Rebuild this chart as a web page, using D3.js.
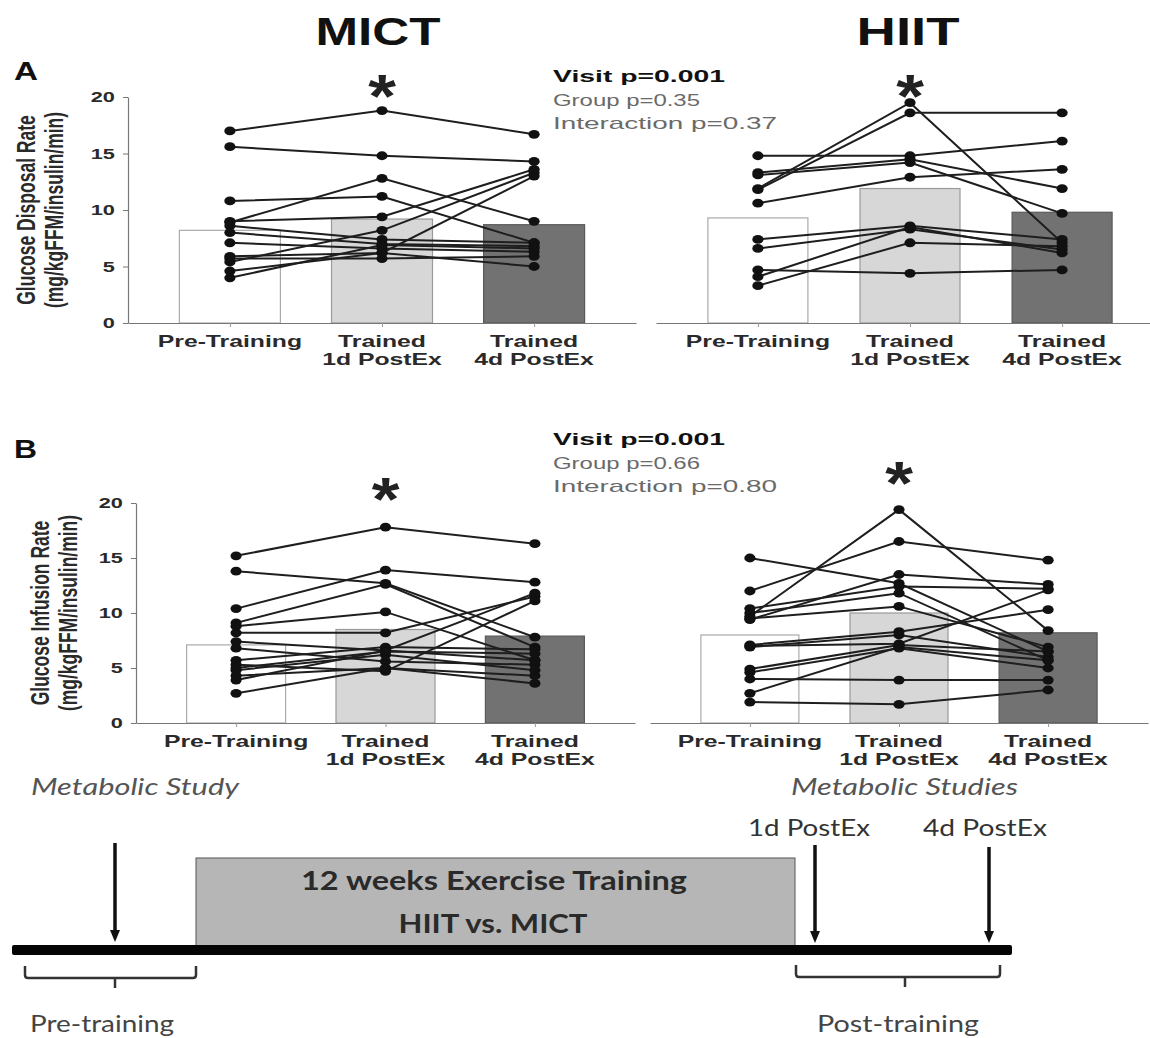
<!DOCTYPE html>
<html>
<head>
<meta charset="utf-8">
<script src="https://cdn.jsdelivr.net/npm/d3@7"></script>
<style>
  body { margin: 0; background: #fff; }
  svg { display: block; font-family: "Liberation Sans", Arial, sans-serif; }
</style>
</head>
<body>
<svg id="fig" width="1150" height="1038"></svg>
<script>
// visits (x categories) and y ticks
const visits = ["Pre-Training", "Trained\n1d PostEx", "Trained\n4d PostEx"];
const yTicks = [0, 5, 10, 15, 20];

// A: glucose disposal rate, one row per subject: [pre, 1d, 4d]
const gdrMict = [
  [17.0, 18.8, 16.7], [15.6, 14.8, 14.3], [10.8, 11.2, 7.1], [8.9, 12.8, 9.0],
  [9.0, 9.4, 13.6], [8.6, 7.4, 7.1], [8.0, 7.0, 6.8], [7.1, 6.6, 6.3],
  [5.9, 6.2, 5.0], [5.7, 5.7, 5.9], [5.4, 8.2, 13.3], [4.6, 6.2, 13.0], [4.0, 6.9, 6.6]
];
const gdrHiit = [
  [11.9, 19.5, 7.1], [11.8, 18.6, 18.6], [14.8, 14.8, 16.1], [13.3, 14.5, 11.9],
  [13.1, 14.2, 9.7], [10.6, 12.9, 13.6], [7.4, 8.6, 7.4], [6.6, 8.3, 6.5],
  [4.7, 4.4, 4.7], [4.1, 8.5, 6.2], [3.3, 7.1, 6.8]
];
const gdrMictMean = [8.2, 9.2, 8.7];
const gdrHiitMean = [9.3, 11.9, 9.8];

// B: glucose infusion rate
const girMict = [
  [15.2, 17.8, 16.3], [13.8, 12.7, 7.8], [10.4, 13.9, 12.8], [9.1, 12.6, 6.9],
  [8.2, 8.2, 11.5], [8.8, 10.1, 5.7], [7.4, 6.6, 11.8], [6.8, 5.6, 5.3],
  [5.7, 6.9, 6.7], [5.3, 4.7, 11.1], [4.8, 6.2, 4.8], [4.3, 5.0, 3.6],
  [3.9, 6.6, 5.7], [2.7, 5.0, 4.3], [5.0, 6.5, 6.3]
];
const girHiit = [
  [9.7, 19.4, 8.4], [12.0, 16.5, 14.8], [15.0, 12.7, 6.5], [9.4, 13.5, 12.6],
  [10.4, 12.4, 12.2], [10.0, 11.8, 5.7], [9.5, 10.6, 6.9], [7.1, 8.3, 10.3],
  [6.9, 8.0, 6.0], [4.9, 7.1, 6.5], [4.6, 6.8, 5.0], [4.0, 3.9, 3.9],
  [2.7, 6.9, 5.7], [1.9, 1.7, 3.0], [7.0, 7.2, 12.1]
];
const girMictMean = [7.1, 8.5, 7.9];
const girHiitMean = [8.0, 10.0, 8.2];

const statsA = ["Visit p=0.001", "Group p=0.35", "Interaction p=0.37"];
const statsB = ["Visit p=0.001", "Group p=0.66", "Interaction p=0.80"];

const barFill = ["#ffffff", "#d7d7d7", "#727272"];
const barStroke = ["#aaaaaa", "#9a9a9a", "#5a5a5a"];

const svg = d3.select("#fig");

// text helper: the figure is stretched horizontally, so text gets an x scale
function addText(parent, str, x, y, o = {}) {
  const k = o.k || 1;
  const t = parent.append("text")
    .attr("transform", `translate(${x},${y}) scale(${k},1)`)
    .attr("text-anchor", o.anchor || "start")
    .attr("font-size", o.size || 16)
    .attr("font-weight", o.weight || "normal")
    .attr("font-style", o.style || "normal")
    .attr("fill", o.color || "#111")
    .text(str);
  if (o.family) t.attr("font-family", o.family);
  if (o.width) t.attr("textLength", o.width / k).attr("lengthAdjust", "spacingAndGlyphs");
  return t;
}

function panel(cfg) {
  const x = d3.scalePoint().domain(visits).range(cfg.xr).padding(0.67);
  const y = d3.scaleLinear().domain([0, 20]).range(cfg.yr);
  const g = svg.append("g");

  // mean bars
  g.selectAll("rect.bar").data(cfg.means).join("rect")
    .attr("class", "bar")
    .attr("x", (d, i) => x(visits[i]) - cfg.barW / 2)
    .attr("y", d => y(d))
    .attr("width", cfg.barW)
    .attr("height", d => y(0) - y(d))
    .attr("fill", (d, i) => barFill[i])
    .attr("stroke", (d, i) => barStroke[i])
    .attr("stroke-width", 1.2);

  // x axis
  const xa = g.append("g")
    .attr("transform", `translate(0,${y(0)})`)
    .call(d3.axisBottom(x).tickSize(4).tickSizeOuter(0).tickFormat(""));
  xa.select(".domain").attr("stroke", "#777").attr("stroke-width", 1.2);
  xa.selectAll(".tick line").attr("stroke", "#999");

  visits.forEach(v => {
    v.split("\n").forEach((s, j) => {
      addText(g, s, x(v), y(0) + 24 + j * 18,
        { anchor: "middle", size: 16.5, weight: "bold", k: 1.5, color: "#2a2a2a" });
    });
  });

  // y axis
  if (cfg.yAxis) {
    const ya = g.append("g")
      .attr("transform", `translate(${cfg.xr[0]},0)`)
      .call(d3.axisLeft(y).tickValues(yTicks).tickSize(5).tickPadding(4).tickSizeOuter(0));
    ya.select(".domain").attr("stroke", "#777").attr("stroke-width", 1.2);
    ya.selectAll(".tick line").attr("stroke", "#777");
    ya.selectAll(".tick text")
      .attr("font-size", 15).attr("font-weight", "bold")
      .attr("font-family", "Liberation Sans, Arial, sans-serif")
      .attr("fill", "#2a2a2a")
      .attr("transform", "scale(1.45,1)");
    const yc = (cfg.yr[0] + cfg.yr[1]) / 2;
    cfg.yTitle.forEach((s, j) => {
      g.append("text")
        .attr("transform", `translate(${cfg.titleX[j]},${yc}) scale(1.45,1) rotate(-90)`)
        .attr("text-anchor", "middle")
        .attr("font-size", 17.5).attr("font-weight", "bold").attr("fill", "#2a2a2a")
        .text(s);
    });
  }

  // subject lines
  const line = d3.line().x((d, i) => x(visits[i])).y(d => y(d));
  g.selectAll("path.subj").data(cfg.subjects).join("path")
    .attr("class", "subj")
    .attr("d", line)
    .attr("fill", "none")
    .attr("stroke", "#1e1e1e")
    .attr("stroke-width", 2);

  // subject points
  g.selectAll("g.subj").data(cfg.subjects).join("g")
    .attr("class", "subj")
    .selectAll("ellipse").data(d => d).join("ellipse")
    .attr("cx", (d, i) => x(visits[i]))
    .attr("cy", d => y(d))
    .attr("rx", 5.6).attr("ry", 4.4)
    .attr("fill", "#111");

  // significance marker above 1d
  addText(g, "*", x(visits[1]), cfg.starY,
    { anchor: "middle", size: 62, weight: "bold", k: 1.15, color: "#222" });
}

// titles
addText(svg, "MICT", 378, 45, { anchor: "middle", size: 38, weight: "bold", width: 125 });
addText(svg, "HIIT", 908, 45, { anchor: "middle", size: 38, weight: "bold", width: 103 });
addText(svg, "A", 14, 80, { size: 25, weight: "900", width: 24 });
addText(svg, "B", 14, 458, { size: 25, weight: "900", width: 23 });

const yTitleA = ["Glucose Disposal Rate", "(mg/kgFFM/insulin/min)"];
const yTitleB = ["Glucose Infusion Rate", "(mg/kgFFM/insulin/min)"];

panel({ subjects: gdrMict, means: gdrMictMean, xr: [128, 636], yr: [323, 97], barW: 101,
  yAxis: true, yTitle: yTitleA, titleX: [35, 63], starY: 117 });
panel({ subjects: gdrHiit, means: gdrHiitMean, xr: [656, 1164], yr: [323, 97], barW: 100,
  yAxis: false, starY: 117 });
panel({ subjects: girMict, means: girMictMean, xr: [136, 635], yr: [723, 503], barW: 99,
  yAxis: true, yTitle: yTitleB, titleX: [49, 77], starY: 520 });
panel({ subjects: girHiit, means: girHiitMean, xr: [650, 1148], yr: [723, 503], barW: 98,
  yAxis: false, starY: 504 });

// stats text
const statW = [172, 147, 224];
[[statsA, 82], [statsB, 445]].forEach(([lines, y0]) => {
  lines.forEach((s, i) => {
    addText(svg, s, 553, y0 + i * 23.5, {
      size: 17, weight: i === 0 ? "bold" : "normal",
      color: i === 0 ? "#111" : "#6a6a6a", width: statW[i]
    });
  });
});

// study timeline schematic
const tl = svg.append("g").attr("font-family", "Lato, 'Open Sans', sans-serif");
tl.append("rect").attr("x", 196).attr("y", 858).attr("width", 599).attr("height", 88)
  .attr("fill", "#b6b6b6").attr("stroke", "#555").attr("stroke-width", 1);
tl.append("rect").attr("x", 12).attr("y", 945).attr("width", 1000).attr("height", 10)
  .attr("rx", 2).attr("fill", "#050505");

function arrow(x, y1, y2) {
  tl.append("line").attr("x1", x).attr("x2", x).attr("y1", y1).attr("y2", y2 - 8)
    .attr("stroke", "#111").attr("stroke-width", 3.5);
  tl.append("path").attr("d", `M${x - 5},${y2 - 12}L${x + 5},${y2 - 12}L${x},${y2}Z`).attr("fill", "#111");
}
arrow(115, 843, 942);
arrow(815, 845, 943);
arrow(989, 847, 943);

function bracket(x1, x2, xm, y) {
  tl.append("path")
    .attr("d", `M${x1},${y}V${y + 9}Q${x1},${y + 12} ${x1 + 3},${y + 12}H${x2 - 3}Q${x2},${y + 12} ${x2},${y + 9}V${y}M${xm},${y + 12}V${y + 22}`)
    .attr("fill", "none").attr("stroke", "#333").attr("stroke-width", 2.5);
}
bracket(25, 196, 115, 966);
bracket(796, 1000, 905, 965);

addText(tl, "Metabolic Study", 31, 795, { size: 23, style: "italic", color: "#555", width: 208 });
addText(tl, "Metabolic Studies", 791, 795, { size: 23, style: "italic", color: "#555", width: 227 });
addText(tl, "1d PostEx", 748, 836, { size: 23, color: "#333", width: 122 });
addText(tl, "4d PostEx", 923, 836, { size: 23, color: "#333", width: 124 });
addText(tl, "12 weeks Exercise Training", 494, 890, { anchor: "middle", size: 26, weight: "bold", color: "#2a2a2a", width: 386 });
addText(tl, "HIIT vs. MICT", 493, 933, { anchor: "middle", size: 26, weight: "bold", color: "#2a2a2a", width: 189 });
addText(tl, "Pre-training", 30, 1032, { size: 24, color: "#444", width: 144 });
addText(tl, "Post-training", 817, 1032, { size: 24, color: "#444", width: 162 });
</script>
</body>
</html>
